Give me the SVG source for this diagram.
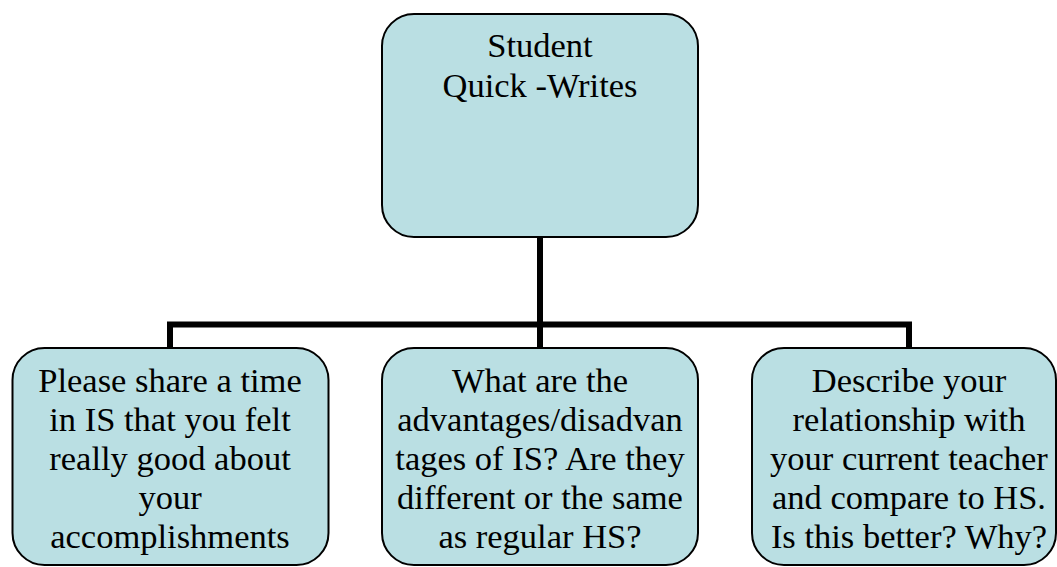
<svg xmlns="http://www.w3.org/2000/svg" width="1057" height="567" viewBox="0 0 1057 567">
<style>
.box{fill:#BADFE3;stroke:#000;stroke-width:2}
.t{font-family:"Liberation Serif","Times New Roman","DejaVu Serif",serif;font-size:34.5px;fill:#000;text-anchor:middle}
.c{fill:none;stroke:#000;stroke-width:6;stroke-linejoin:miter}
</style>
<rect width="1057" height="567" fill="#fff"/>
<g id="connectors">
<path class="c" d="M540 237 V348"/>
<path class="c" d="M170 348 V324.5 H909 V348"/>
</g>
<g id="root">
<rect class="box" x="382" y="14" width="316" height="223" rx="32" ry="32"/>
<text class="t" x="540" y="57">Student</text>
<text class="t" x="540" y="97">Quick -Writes</text>
</g>
<g id="node-left">
<rect class="box" x="12.5" y="348" width="316" height="217" rx="32" ry="32"/>
<text class="t" x="170" y="392">Please share a time</text>
<text class="t" x="170" y="431">in IS that you felt</text>
<text class="t" x="170" y="470">really good about</text>
<text class="t" x="170" y="509">your</text>
<text class="t" x="170" y="548">accomplishments</text>
</g>
<g id="node-middle">
<rect class="box" x="382" y="348" width="316" height="217" rx="32" ry="32"/>
<text class="t" x="540" y="392">What are the</text>
<text class="t" x="540" y="431">advantages/disadvan</text>
<text class="t" x="540" y="470">tages of IS? Are they</text>
<text class="t" x="540" y="509">different or the same</text>
<text class="t" x="540" y="548">as regular HS?</text>
</g>
<g id="node-right">
<rect class="box" x="752" y="348" width="304" height="217" rx="32" ry="32"/>
<text class="t" x="909" y="392">Describe your</text>
<text class="t" x="909" y="431">relationship with</text>
<text class="t" x="909" y="470">your current teacher</text>
<text class="t" x="909" y="509">and compare to HS.</text>
<text class="t" x="909" y="548">Is this better? Why?</text>
</g>
</svg>
